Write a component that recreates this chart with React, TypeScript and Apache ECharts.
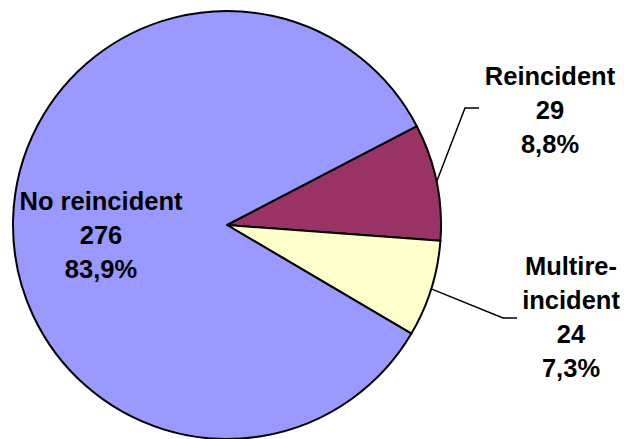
import React, { useEffect, useRef } from "react";
import * as echarts from "echarts";

const categories = ["Reincident", "Multire-\nincident", "No reincident"];
const values = [29, 24, 276];
const colors = ["#993366", "#FFFFCC", "#9999FF"];

export default function App() {
  const ref = useRef<HTMLDivElement>(null);
  useEffect(() => {
    document.body.style.margin = "0";
    const chart = echarts.init(ref.current!, null, { renderer: "svg" });
    const font = {
      fontFamily: "'Liberation Sans', Arial, sans-serif",
      fontWeight: "bold" as const,
      fontSize: 25.5,
      lineHeight: 34,
      color: "#000",
    };
    chart.setOption({
      animation: false,
      backgroundColor: "#fff",
      series: [
        {
          type: "pie",
          center: [227, 225],
          radius: 214,
          startAngle: 27.5,
          clockwise: true,
          avoidLabelOverlap: false,
          itemStyle: { borderColor: "#000", borderWidth: 2 },
          label: {
            show: true,
            position: "outside",
            ...font,
            align: "center",
            formatter: (p: any) =>
              `${p.name}\n${p.value}\n${p.percent.toFixed(1).replace(".", ",")}%`,
          },
          labelLine: {
            show: true,
            length: 20,
            length2: 15,
            lineStyle: { color: "#000", width: 1.5 },
          },
          labelLayout: (p: any) => {
            const start = p.labelLinePoints ? p.labelLinePoints[0] : null;
            if (p.dataIndex === 0) {
              return {
                x: 550,
                y: 110,
                align: "center",
                verticalAlign: "middle",
                labelLinePoints: [start, [465, 108], [479, 108]],
              };
            }
            if (p.dataIndex === 1) {
              return {
                x: 571,
                y: 317,
                align: "center",
                verticalAlign: "middle",
                labelLinePoints: [start, [503, 318], [517, 318]],
              };
            }
            return { x: 101, y: 235, align: "center", verticalAlign: "middle" };
          },
          data: categories.map((name, i) => ({
            name,
            value: values[i],
            itemStyle: { color: colors[i] },
            ...(i === 2
              ? { label: { position: "inside" }, labelLine: { show: false } }
              : {}),
          })),
        },
      ],
    });
    return () => chart.dispose();
  }, []);
  return <div ref={ref} style={{ width: 624, height: 439 }} />;
}
